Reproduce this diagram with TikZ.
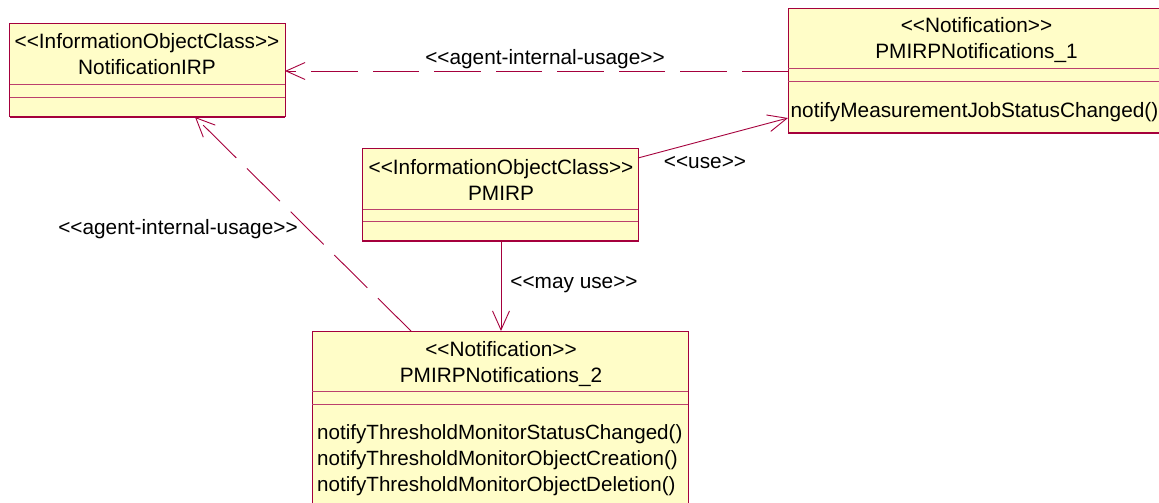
\documentclass[tikz,border=0pt]{standalone}
\usepackage{fontspec}
\setmainfont{Liberation Sans}
\usetikzlibrary{arrows.meta}
\definecolor{umlline}{RGB}{165,0,60}
\definecolor{umlfill}{RGB}{255,253,200}
\tikzset{
  x=1pt,y=-1pt,
  umlbox/.style={draw=umlline,fill=umlfill,line width=1pt,rectangle,inner sep=0pt,anchor=north west,outer sep=0pt},
  umltext/.style={font=\fontsize{20.8}{26}\selectfont,text=black,inner sep=0pt,align=center,anchor=center},
  sepline/.style={draw=umlline!75!white,line width=1pt},
  edgeline/.style={draw=umlline,line width=2pt},
  conn/.style={draw=umlline,line width=0.9pt,-{Straight Barb[length=19pt,width=17pt,line width=0.9pt]}},
  dashconn/.style={conn,dash pattern=on 46.5pt off 15pt},
}
\begin{document}
\begin{tikzpicture}
\useasboundingbox (0,0) rectangle (1159,503);
\node[umlbox,minimum width=275.5pt,minimum height=93pt] (nirp) at (9.5,23.5) {};
\node[umlbox,minimum width=375pt,minimum height=124pt] (pn1) at (788,8.5) {};
\node[umlbox,minimum width=275.5pt,minimum height=93pt] (pm) at (362.5,148) {};
\node[umlbox,minimum width=376pt,minimum height=180pt] (pn2) at (312,331) {};
\draw[sepline] (9.5,84)--(285,84) (9.5,97)--(285,97);
\draw[sepline] (788,68.5)--(1159,68.5) (788,81.5)--(1159,81.5);
\draw[sepline] (362.5,209)--(638,209) (362.5,221.5)--(638,221.5);
\draw[sepline] (312,391)--(688,391) (312,404)--(688,404);
\draw[edgeline] (nirp.south west)--(nirp.south east);
\draw[edgeline] (pn1.south west)--(pn1.south east);
\draw[edgeline] (pm.south west)--(pm.south east);
\node[umltext] (t1) at (147,54.5) {<{}<InformationObjectClass>{}>\\NotificationIRP};
\node[umltext] (t2) at (976.5,40) {<{}<Notification>{}>\\PMIRPNotifications\_1};
\node[umltext] at (974.5,112) (t2b) {notifyMeasurementJobStatusChanged()};
\node[umltext] (t3) at (501,179.5) {<{}<InformationObjectClass>{}>\\PMIRP};
\node[umltext] (t4) at (501,364) {<{}<Notification>{}>\\PMIRPNotifications\_2};
\node[umltext,align=left,anchor=north west,font=\fontsize{20.6}{26}\selectfont] (t5) at (317,424) {notifyThresholdMonitorStatusChanged()\\notifyThresholdMonitorObjectCreation()\\notifyThresholdMonitorObjectDeletion()};
\coordinate (a1) at (788,71); \coordinate (a2) at (285,71);
\coordinate (b1) at (411,331); \coordinate (b2) at (195,117);
\coordinate (c1) at (638,158); \coordinate (c2) at (788,118);
\coordinate (d1) at (501,241); \coordinate (d2) at (501,331);
\draw[dashconn] (a1)--(a2);
\draw[dashconn] (b1)--(b2);
\draw[conn] (c1)--(c2);
\draw[conn] (d1)--(d2);
\node[umltext] (l1) at (545,59) {<{}<agent-internal-usage>{}>};
\node[umltext] (l2) at (178,229) {<{}<agent-internal-usage>{}>};
\node[umltext] (l3) at (705,163) {<{}<use>{}>};
\node[umltext] (l4) at (574,285) {<{}<may use>{}>};
\end{tikzpicture}
\end{document}
